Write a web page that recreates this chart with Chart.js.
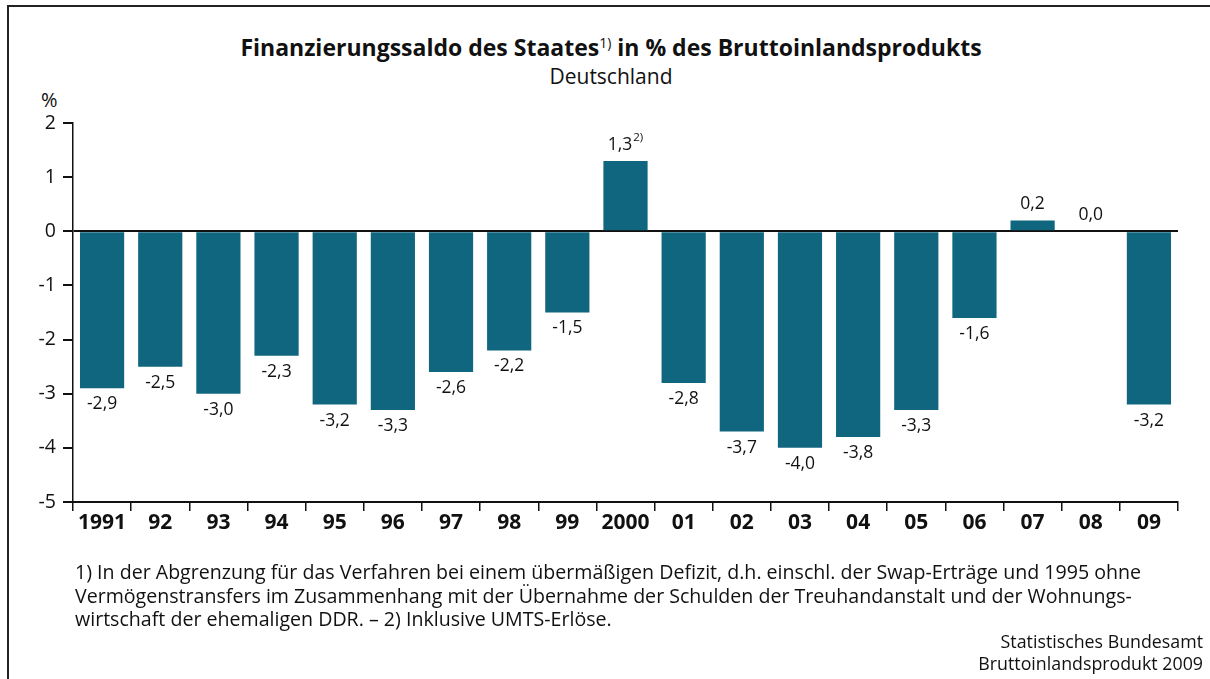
<!DOCTYPE html>
<html lang="de">
<head>
<meta charset="UTF-8">
<title>Finanzierungssaldo des Staates</title>
<script src="https://cdn.jsdelivr.net/npm/chart.js"></script>
<style>
  html, body { margin: 0; padding: 0; background: #fff; }
  body { width: 1210px; height: 679px; position: relative; overflow: hidden; font-family: "Open Sans", sans-serif; color: #111; }
  .frame { position: absolute; left: 7px; top: 5px; right: -4px; bottom: -4px; border-left: 2px solid #222; border-top: 2px solid #222; }
  .txt { position: absolute; white-space: nowrap; }
  #title { left: 0; width: 1222px; text-align: center; top: 31px; font-size: 23px; font-weight: bold; }
  #title sup { font-size: 14px; font-weight: normal; vertical-align: 8px; line-height: 0; }
  #sub { left: 0; width: 1222px; text-align: center; top: 62px; font-size: 21px; }
  #unit { left: 41px; top: 86px; font-size: 20px; }
  #notes { left: 75px; top: 560px; font-size: 19.6px; line-height: 23.5px; }
  #source { right: 7px; top: 631px; font-size: 17.8px; line-height: 21.5px; text-align: right; }
  #c { position: absolute; left: 0; top: 0; }
</style>
</head>
<body>
<div class="frame"></div>
<div class="txt" id="title">Finanzierungssaldo des Staates<sup>1)</sup> in % des Bruttoinlandsprodukts</div>
<div class="txt" id="sub">Deutschland</div>
<div class="txt" id="unit">%</div>
<canvas id="c" width="1210" height="679"></canvas>
<div class="txt" id="notes">1) In der Abgrenzung für das Verfahren bei einem übermäßigen Defizit, d.h. einschl. der Swap-Erträge und 1995 ohne<br>Vermögenstransfers im Zusammenhang mit der Übernahme der Schulden der Treuhandanstalt und der Wohnungs-<br>wirtschaft der ehemaligen DDR. – 2) Inklusive UMTS-Erlöse.</div>
<div class="txt" id="source">Statistisches Bundesamt<br>Bruttoinlandsprodukt 2009</div>

<script>
const years = ['1991', '92', '93', '94', '95', '96', '97', '98', '99', '2000', '01', '02', '03', '04', '05', '06', '07', '08', '09'];
const saldo = [-2.9, -2.5, -3.0, -2.3, -3.2, -3.3, -2.6, -2.2, -1.5, 1.3, -2.8, -3.7, -4.0, -3.8, -3.3, -1.6, 0.2, 0.0, -3.2];
const labelNotes = ['', '', '', '', '', '', '', '', '', '2)', '', '', '', '', '', '', '', '', ''];
const yTicks = [2, 1, 0, -1, -2, -3, -4, -5];

const FONT = '"Open Sans", sans-serif';

// value labels above / below each bar
const valueLabels = {
  id: 'valueLabels',
  afterDatasetsDraw(chart) {
    const ctx = chart.ctx;
    const meta = chart.getDatasetMeta(0);
    const yScale = chart.scales.y;
    ctx.save();
    ctx.fillStyle = '#111';
    ctx.textBaseline = 'middle';
    meta.data.forEach((bar, i) => {
      const v = saldo[i];
      const txt = v.toFixed(1).replace('.', ',');
      const yEnd = yScale.getPixelForValue(v);
      const y = v >= 0 ? yEnd - 16 : yEnd + 16;
      ctx.font = '17.5px ' + FONT;
      const w = ctx.measureText(txt).width;
      const note = labelNotes[i];
      let nw = 0;
      if (note) {
        ctx.font = '11.5px ' + FONT;
        nw = ctx.measureText(note).width + 1;
      }
      const x0 = bar.x - (w + nw) / 2;
      ctx.font = '17.5px ' + FONT;
      ctx.textAlign = 'left';
      ctx.fillText(txt, x0, y);
      if (note) {
        ctx.font = '11.5px ' + FONT;
        ctx.fillText(note, x0 + w + 1, y - 7);
      }
    });
    ctx.restore();
  }
};

new Chart(document.getElementById('c'), {
  type: 'bar',
  data: {
    labels: years,
    datasets: [{
      data: saldo,
      backgroundColor: '#0f667e',
      barPercentage: 0.76,
      categoryPercentage: 1.0
    }]
  },
  options: {
    responsive: false,
    animation: false,
    layout: { padding: { left: 20, right: 32, top: 123, bottom: 137 } },
    plugins: { legend: { display: false }, tooltip: { enabled: false } },
    scales: {
      x: {
        offset: true,
        grid: { offset: true, drawOnChartArea: false, color: '#111', tickLength: 9, lineWidth: 1.5 },
        border: { color: '#111', width: 2 },
        ticks: { color: '#111', font: { family: FONT, size: 21, weight: 'bold' }, padding: -1, maxRotation: 0, autoSkip: false },
        afterFit(scale) { scale.height = 40; }
      },
      y: {
        min: -5,
        max: 2,
        afterBuildTicks(scale) { scale.ticks = yTicks.map(v => ({ value: v })); },
        grid: {
          color: ctx => (ctx.tick && ctx.tick.value === 0 ? '#111' : 'rgba(0,0,0,0)'),
          lineWidth: 2,
          tickColor: '#111',
          tickLength: 10,
          drawTicks: true
        },
        border: { color: '#111', width: 1.5 },
        ticks: { color: '#111', font: { family: FONT, size: 19.5 }, padding: 7, callback: v => String(v) },
        afterFit(scale) { scale.width = 53; }
      }
    }
  },
  plugins: [valueLabels]
});
</script>
</body>
</html>
